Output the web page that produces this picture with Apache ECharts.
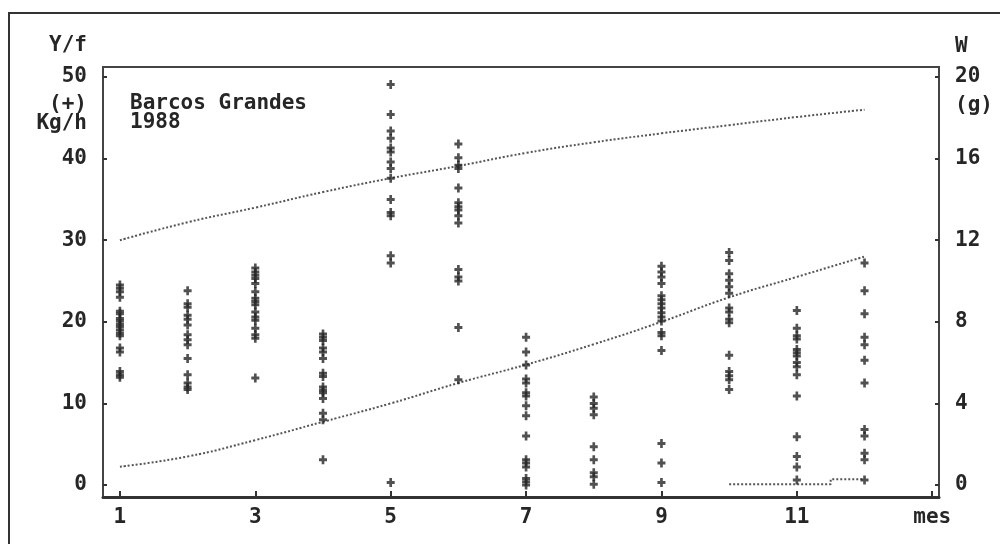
<!DOCTYPE html>
<html>
<head>
<meta charset="utf-8">
<script src="https://cdn.jsdelivr.net/npm/echarts@6/dist/echarts.min.js"></script>
<style>
  html, body { margin: 0; padding: 0; background: #fff; }
  #chart { width: 1000px; height: 544px; }
</style>
</head>
<body>
<div id="chart"></div>
<script>
// Monthly catch rates (Kg/h) per haul, grouped by month
const months = [1, 2, 3, 4, 5, 6, 7, 8, 9, 10, 11, 12];
const catchByMonth = [
  [24.5, 24.1, 23.7, 23.0, 21.3, 21.0, 20.4, 20.1, 19.7, 19.4, 19.0, 18.6, 18.3, 16.8, 16.3, 13.9, 13.5, 13.2],
  [23.8, 22.2, 21.8, 20.8, 20.3, 19.6, 18.4, 17.8, 17.2, 15.5, 13.5, 12.5, 12.0, 11.7],
  [26.6, 26.1, 25.7, 25.3, 24.7, 23.7, 22.9, 22.5, 22.1, 21.2, 20.6, 20.2, 19.2, 18.4, 18.0, 13.1],
  [18.5, 18.1, 17.7, 16.8, 16.3, 15.5, 13.7, 13.3, 12.0, 11.6, 11.3, 10.6, 8.8, 8.0, 3.1],
  [49.1, 45.4, 43.4, 42.5, 41.3, 40.8, 39.6, 38.8, 37.6, 35.0, 33.4, 33.0, 28.1, 27.2, 0.3],
  [41.8, 40.1, 39.2, 38.8, 36.4, 34.6, 34.1, 33.7, 33.0, 32.1, 26.4, 25.5, 25.0, 19.3, 12.9],
  [18.1, 16.3, 14.7, 13.0, 12.5, 11.3, 10.9, 9.7, 8.5, 6.0, 3.1, 2.7, 2.2, 0.8, 0.4, 0.0],
  [10.8, 10.0, 9.4, 8.6, 4.7, 3.1, 1.5, 1.0, 0.1],
  [26.8, 26.1, 25.5, 24.7, 23.2, 22.7, 22.2, 21.7, 21.1, 20.6, 20.1, 18.7, 18.3, 16.5, 5.1, 2.7, 0.3],
  [28.5, 27.5, 25.9, 25.1, 24.3, 23.5, 21.7, 21.2, 20.3, 19.9, 15.9, 13.9, 13.4, 12.9, 11.7],
  [21.4, 19.2, 18.3, 17.9, 16.6, 16.2, 15.8, 15.0, 14.5, 13.5, 10.9, 5.9, 3.5, 2.2, 0.6],
  [27.2, 23.8, 21.0, 18.1, 17.2, 15.3, 12.5, 6.8, 6.0, 3.9, 3.1, 0.6]
];

// Fitted yield per recruit curve (left axis, Kg/h)
const yieldCurve = [30.0, 32.2, 34.0, 35.9, 37.6, 39.1, 40.7, 42.0, 43.1, 44.1, 45.1, 46.0];
// Mean individual weight W (right axis, g)
const weightCurve = [0.9, 1.4, 2.2, 3.1, 4.0, 5.0, 5.9, 6.9, 8.0, 9.2, 10.2, 11.2];
// Low-level trace at the end of the season (left axis)
const lowTrace = [[10, 0.1], [11.5, 0.1], [11.5, 0.7], [12, 0.7]];

const leftTicks = [0, 10, 20, 30, 40, 50];
const rightTicks = [0, 4, 8, 12, 16, 20];
const monthTicks = [1, 3, 5, 7, 9, 11, 13];

const ink = '#262626';
const font = 'DejaVu Sans Mono';
const textFont = 'bold 21px ' + font;

const scatterData = [];
months.forEach((m, i) => {
  catchByMonth[i].forEach(v => scatterData.push([m, v]));
});

const chart = echarts.init(document.getElementById('chart'), null, { renderer: 'canvas' });

const labelStyle = { color: ink, fontFamily: font, fontWeight: 'bold', fontSize: 21 };
const curveStyle = { color: '#555', width: 2, type: [2, 2] };

function note(x, y, text, align) {
  return { type: 'text', x: x, y: y, silent: true,
    style: { text: text, align: align, verticalAlign: 'middle', fill: ink, font: textFont } };
}

chart.setOption({
  animation: false,
  backgroundColor: '#fff',
  grid: {
    left: 103, right: 61, top: 67, bottom: 47,
    show: true, borderColor: '#444', borderWidth: 2, backgroundColor: 'transparent'
  },
  xAxis: {
    type: 'value',
    min: 0.75, max: 13.1,
    splitLine: { show: false },
    axisLine: { onZero: false, lineStyle: { color: '#333', width: 3 } },
    axisTick: { customValues: monthTicks, inside: true, length: 6, lineStyle: { color: '#333', width: 2 } },
    axisLabel: Object.assign({
      customValues: monthTicks, margin: 10,
      formatter: v => (v === 13 ? 'mes' : String(v))
    }, labelStyle)
  },
  yAxis: [
    {
      type: 'value',
      min: -1.47, max: 51.23,
      splitLine: { show: false },
      axisLine: { show: true, onZero: false, lineStyle: { color: '#444', width: 2 } },
      axisTick: { customValues: leftTicks, inside: true, length: 4, lineStyle: { color: '#333', width: 2 } },
      axisLabel: Object.assign({ customValues: leftTicks, margin: 16 }, labelStyle)
    },
    {
      type: 'value',
      position: 'right',
      min: -0.588, max: 20.49,
      splitLine: { show: false },
      axisLine: { show: true, onZero: false, lineStyle: { color: '#444', width: 2 } },
      axisTick: { customValues: rightTicks, inside: true, length: 4, lineStyle: { color: '#333', width: 2 } },
      axisLabel: Object.assign({ customValues: rightTicks, margin: 16 }, labelStyle)
    }
  ],
  series: [
    {
      name: 'Y/f',
      type: 'line',
      yAxisIndex: 0,
      smooth: true,
      symbol: 'none',
      data: months.map((m, i) => [m, yieldCurve[i]]),
      lineStyle: curveStyle,
      z: 2
    },
    {
      name: 'W',
      type: 'line',
      yAxisIndex: 1,
      smooth: true,
      symbol: 'none',
      data: months.map((m, i) => [m, weightCurve[i]]),
      lineStyle: curveStyle,
      z: 2
    },
    {
      name: 'low',
      type: 'line',
      yAxisIndex: 0,
      symbol: 'none',
      data: lowTrace,
      lineStyle: curveStyle,
      z: 2
    },
    {
      name: 'Kg/h',
      type: 'scatter',
      yAxisIndex: 0,
      data: scatterData,
      symbol: 'path://M2,0H4V2H6V4H4V6H2V4H0V2H2Z',
      symbolSize: [8, 9],
      itemStyle: { color: ink },
      z: 3
    }
  ],
  graphic: [
    { type: 'rect', shape: { x: 9, y: 13, width: 1000, height: 540 },
      style: { fill: 'none', stroke: '#333', lineWidth: 2 }, silent: true },
    note(87, 46, 'Y/f', 'right'),
    note(87, 105, '(+)', 'right'),
    note(87, 124, 'Kg/h', 'right'),
    note(955, 47, 'W', 'left'),
    note(955, 106, '(g)', 'left'),
    note(130, 104, 'Barcos Grandes', 'left'),
    note(130, 123, '1988', 'left')
  ]
});
</script>
</body>
</html>
